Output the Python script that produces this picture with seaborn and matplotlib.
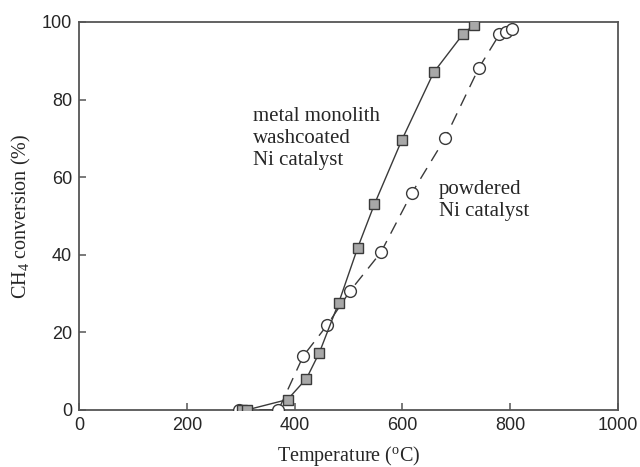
import matplotlib
matplotlib.use("Agg")
import matplotlib.pyplot as plt
import seaborn as sns
import pandas as pd

# -------------------------------
# data
# -------------------------------
monolith_temp = [303, 311, 387, 422, 446, 482, 517, 548, 599, 658, 712, 732]
monolith_conv = [0, 0, 2.7, 8.1, 14.8, 27.7, 41.8, 53.0, 69.6, 87.0, 96.8, 99.2]

powder_temp = [296, 370, 416, 460, 503, 560, 617, 679, 742, 780, 793, 803]
powder_conv = [0, 0, 13.9, 21.8, 30.7, 40.6, 55.8, 70.0, 88.2, 96.8, 97.3, 98.1]

x_ticks = [0, 200, 400, 600, 800, 1000]
y_ticks = [0, 20, 40, 60, 80, 100]

df_mono = pd.DataFrame({"T": monolith_temp, "X": monolith_conv})
df_pow = pd.DataFrame({"T": powder_temp, "X": powder_conv})

sns.set_style("white")
plt.rcParams["font.family"] = ["Liberation Sans", "DejaVu Sans"]
plt.rcParams["mathtext.fontset"] = "custom"
plt.rcParams["mathtext.rm"] = "Liberation Serif"
plt.rcParams["mathtext.it"] = "Liberation Serif:italic"

fig = plt.figure(figsize=(6.4, 4.67), dpi=100)
ax = fig.add_axes([79 / 640, 1 - 410 / 467, (618 - 79) / 640, (410 - 22) / 467])

edge = "#3a3a3a"

# powdered catalyst: dashed line, open circles
sns.lineplot(data=df_pow, x="T", y="X", ax=ax, estimator=None, sort=False,
             color=edge, linewidth=1.0, linestyle=(0, (9, 6)),
             marker="o", markersize=8.5, markerfacecolor="white",
             markeredgecolor=edge, markeredgewidth=1.0, zorder=3)

# metal monolith: solid line, grey squares
sns.lineplot(data=df_mono, x="T", y="X", ax=ax, estimator=None, sort=False,
             color=edge, linewidth=1.0, marker="s", markersize=7.5,
             markerfacecolor="#a8a8a8", markeredgecolor=edge,
             markeredgewidth=1.0, zorder=4)

ax.set_xlim(0, 1000)
ax.set_ylim(0, 100)
ax.set_xticks(x_ticks)
ax.set_yticks(y_ticks)
ax.tick_params(axis="both", direction="in", length=5, width=1.1,
               color="#555555", labelsize=13, pad=5,
               bottom=True, left=True, top=False, right=False)
for sp in ax.spines.values():
    sp.set_color("#555555")
    sp.set_linewidth(1.3)

serif = ["Liberation Serif", "DejaVu Serif"]
ax.set_xlabel(r"Temperature ($\mathregular{^{o}}$C)", family=serif,
              fontsize=14.5, labelpad=7)
ax.set_ylabel(r"CH$\mathregular{_4}$ conversion (%)", family=serif,
              fontsize=14.5, labelpad=6)

ax.text(322, 70, "metal monolith\nwashcoated\nNi catalyst", family=serif,
        fontsize=15, va="center", ha="left", linespacing=1.2)
ax.text(668, 54, "powdered\nNi catalyst", family=serif,
        fontsize=15, va="center", ha="left", linespacing=1.2)

fig.savefig("out.png", dpi=100)
